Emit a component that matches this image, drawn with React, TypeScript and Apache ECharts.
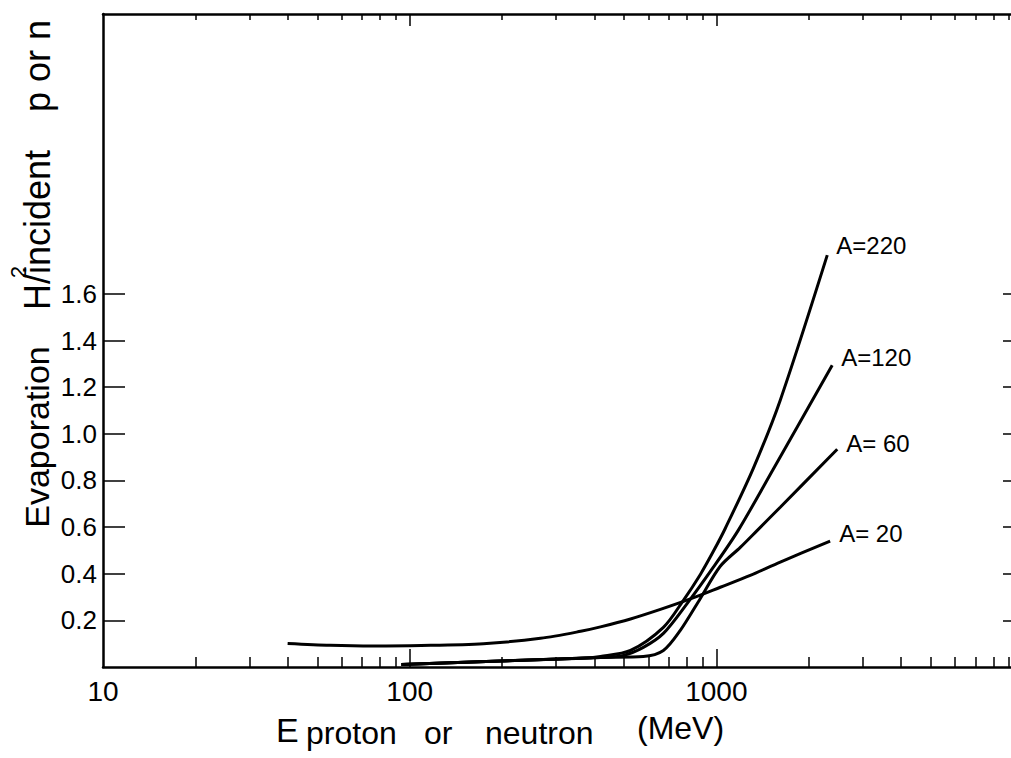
import React, { useEffect, useRef } from "react";
import * as echarts from "echarts";

// ---- data ----
const a220E = [94, 198, 361, 419, 525, 672, 781, 887, 978, 1070, 1320, 1616, 2300];
const a220Y = [0.011, 0.026, 0.037, 0.045, 0.071, 0.17, 0.286, 0.397, 0.496, 0.595, 0.852, 1.144, 1.766];

const a120E = [94, 198, 419, 498, 578, 672, 804, 978, 1180, 1533, 2387];
const a120Y = [0.011, 0.026, 0.041, 0.05, 0.084, 0.144, 0.273, 0.428, 0.587, 0.848, 1.294];

const a60E = [94, 198, 419, 578, 672, 763, 887, 1030, 1197, 1360, 1616, 2479];
const a60Y = [0.011, 0.026, 0.041, 0.045, 0.071, 0.157, 0.294, 0.432, 0.513, 0.586, 0.685, 0.934];

const a20E = [40, 55, 76, 109, 174, 267, 361, 419, 525, 657, 823, 1030, 1290, 1616, 2350];
const a20Y = [0.101, 0.093, 0.09, 0.092, 0.1, 0.123, 0.153, 0.172, 0.206, 0.247, 0.292, 0.342, 0.393, 0.45, 0.54];

const seriesNames = ["A=220", "A=120", "A= 60", "A= 20"];

const xLabelValues = [10, 100, 1000];
const xMajorTicks = [100, 1000];
const xMinorTicks = [
  20, 30, 40, 50, 60, 70, 80, 90,
  200, 300, 400, 500, 600, 700, 800, 900,
  2000, 3000, 4000, 5000, 6000, 7000, 8000, 9000,
];
const yTickValues = [0.2, 0.4, 0.6, 0.8, 1.0, 1.2, 1.4, 1.6];

const FONT = "Liberation Sans";

function pairs(xs: number[], ys: number[]) {
  return xs.map((x, i) => [x, ys[i]]);
}

export default function App() {
  const ref = useRef<HTMLDivElement>(null);

  useEffect(() => {
    if (!ref.current) return;
    const chart = echarts.init(ref.current, undefined, { renderer: "svg" });

    const lineStyle = { color: "#000", width: 3 };
    const mkSeries = (name: string, xs: number[], ys: number[], off: number[]) => ({
      type: "line",
      name,
      data: pairs(xs, ys),
      xAxisIndex: 0,
      yAxisIndex: 0,
      showSymbol: false,
      symbol: "none",
      smooth: 0.3,
      lineStyle,
      endLabel: {
        show: true,
        formatter: name,
        color: "#000",
        fontFamily: FONT,
        fontSize: 24,
        distance: 9,
        offset: off,
      },
    });

    const axisLineStyle = { lineStyle: { color: "#000", width: 2.5 } };
    const tickStyle = { color: "#000", width: 1.5 };
    const text = (t: string, x: number, y: number, size: number, extra: any = {}) => ({
      type: "text",
      x,
      y,
      ...extra,
      style: { text: t, fontFamily: FONT, fontSize: size, fill: "#000", align: "left", verticalAlign: "middle", ...(extra.style || {}) },
    });

    chart.setOption({
      animation: false,
      backgroundColor: "#fff",
      grid: { left: 103, right: -12, top: 14, bottom: 91, outerBoundsMode: "none", containLabel: false },
      xAxis: [
        {
          type: "log",
          logBase: 10,
          min: 10,
          max: 10000,
          position: "bottom",
          axisLine: { show: true, ...axisLineStyle },
          axisTick: { show: true, inside: true, length: 18, customValues: xMajorTicks, lineStyle: tickStyle },
          axisLabel: {
            customValues: xLabelValues,
            color: "#000",
            fontFamily: FONT,
            fontSize: 28,
            margin: 10,
            formatter: (v: number) => String(Math.round(v)),
          },
          splitLine: { show: false },
        },
        {
          type: "log",
          logBase: 10,
          min: 10,
          max: 10000,
          position: "bottom",
          axisLine: { show: false },
          axisTick: { show: true, inside: true, length: 10, customValues: xMinorTicks, lineStyle: tickStyle },
          axisLabel: { show: false },
          splitLine: { show: false },
        },
        {
          type: "log",
          logBase: 10,
          min: 10,
          max: 10000,
          position: "top",
          axisLine: { show: true, ...axisLineStyle },
          axisTick: { show: true, inside: true, length: 12, customValues: xMajorTicks, lineStyle: tickStyle },
          axisLabel: { show: false },
          splitLine: { show: false },
        },
        {
          type: "log",
          logBase: 10,
          min: 10,
          max: 10000,
          position: "top",
          axisLine: { show: false },
          axisTick: { show: true, inside: true, length: 6, customValues: xMinorTicks, lineStyle: tickStyle },
          axisLabel: { show: false },
          splitLine: { show: false },
        },
      ],
      yAxis: [
        {
          type: "value",
          min: 0,
          max: 2.8,
          interval: 0.2,
          position: "left",
          axisLine: { show: true, ...axisLineStyle },
          axisTick: { show: true, inside: true, length: 22, customValues: yTickValues, lineStyle: tickStyle },
          axisLabel: {
            customValues: yTickValues,
            color: "#000",
            fontFamily: FONT,
            fontSize: 26,
            margin: 6,
            formatter: (v: number) => v.toFixed(1),
          },
          splitLine: { show: false },
        },
        {
          type: "value",
          min: 0,
          max: 2.8,
          interval: 0.2,
          position: "right",
          axisLine: { show: true, ...axisLineStyle },
          axisTick: { show: true, inside: true, length: 20, customValues: yTickValues, lineStyle: tickStyle },
          axisLabel: { show: false },
          splitLine: { show: false },
        },
      ],
      graphic: [
        text("Evaporation", 37, 437, 34, { rotation: Math.PI / 2, style: { align: "center" } }),
        text("H", 37, 297, 36, { rotation: Math.PI / 2, style: { align: "center" } }),
        text("2", 18, 272, 22, { rotation: Math.PI / 2, style: { align: "center" } }),
        text("/incident", 37, 284, 36, { rotation: Math.PI / 2 }),
        text("p or n", 37, 66, 36, { rotation: Math.PI / 2, style: { align: "center" } }),
        text("E", 276, 730, 34),
        text("proton", 306, 733, 32),
        text("or", 424, 733, 32),
        text("neutron", 485, 733, 32),
        text("(MeV)", 637, 728, 32),
      ],
      series: [
        mkSeries(seriesNames[0], a220E, a220Y, [0, -10]),
        mkSeries(seriesNames[1], a120E, a120Y, [0, -8]),
        mkSeries(seriesNames[2], a60E, a60Y, [0, -6]),
        mkSeries(seriesNames[3], a20E, a20Y, [0, -8]),
      ],
    });

    return () => chart.dispose();
  }, []);

  return (
    <div
      ref={ref}
      style={{ position: "fixed", left: 0, top: 0, width: 1011, height: 758, background: "#fff" }}
    />
  );
}
